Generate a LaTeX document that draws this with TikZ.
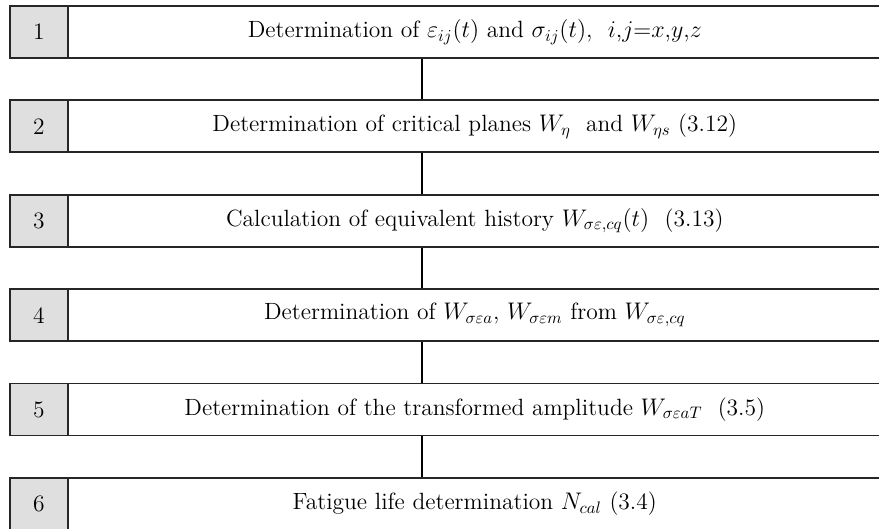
\documentclass[tikz,border=0pt]{standalone}
\usepackage{amsmath}
\begin{document}
\begin{tikzpicture}[x=0.6pt,y=-0.6pt,
  numbox/.style={draw=black!85,line width=1.1pt,fill=gray!25,rectangle,anchor=north west,
    minimum width=34.4pt,minimum height=31.2pt,inner sep=0pt,font=\fontsize{14.1pt}{17pt}\selectfont},
  txtbox/.style={draw=black!85,line width=1.1pt,fill=white,rectangle,anchor=north west,
    minimum width=488.6pt,minimum height=31.2pt,inner sep=0pt,font=\fontsize{14.1pt}{17pt}\selectfont},
  link/.style={draw=black,line width=1pt}]
\useasboundingbox (0,0) rectangle (879,528);
\coordinate (c) at (422,0);
\foreach \i/\yy/\t in {
  1/5/{Determination of $\varepsilon_{ij}(t)$ and $\sigma_{ij}(t)$,~~$i$,$j$=$x$,$y$,$z$},
  2/99.4/{Determination of critical planes $W_\eta$~ and $W_{\eta s}$ (3.12)},
  3/193.8/{Calculation of equivalent history $W_{\sigma\varepsilon,cq}(t)$~ (3.13)},
  4/288.2/{Determination of $W_{\sigma\varepsilon a}$, $W_{\sigma\varepsilon m}$ from $W_{\sigma\varepsilon,cq}$},
  5/382.6/{Determination of the transformed amplitude $W_{\sigma\varepsilon aT}$~ (3.5)},
  6/477/{Fatigue life determination $N_{cal}$ (3.4)}}{
  \node[numbox] (n\i) at (9.3,\yy) {\i};
  \node[txtbox] (t\i) at (66.7,\yy) {\t};
}
\foreach \i [evaluate=\i as \j using int(\i+1)] in {1,...,5}{
  \draw[link] (t\i.south -| c) -- (t\j.north -| c);
}
\end{tikzpicture}
\end{document}
